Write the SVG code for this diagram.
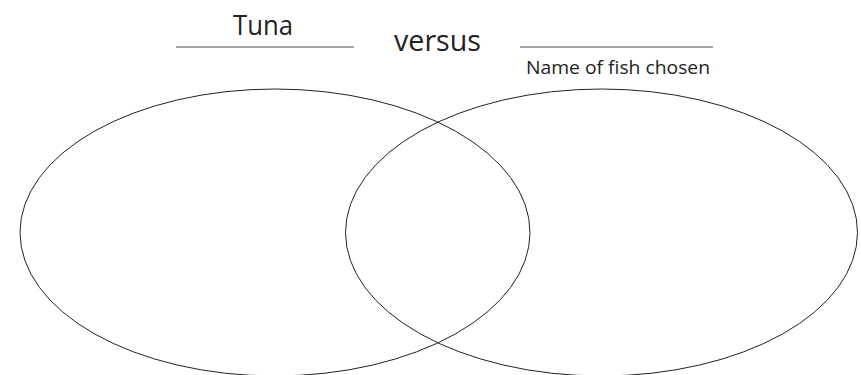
<svg xmlns="http://www.w3.org/2000/svg" width="861" height="375" viewBox="0 0 861 375">
<style>
.t{font-family:"Open Sans","Liberation Sans",sans-serif;fill:#222}
.ln{stroke:#888;stroke-width:1.5}
.ov{fill:none;stroke:#222;stroke-width:1}
</style>
<rect width="861" height="375" fill="#fff"/>
<g id="header">
<line class="ln" x1="176" y1="47" x2="354" y2="47"/>
<line class="ln" x1="520" y1="47" x2="713" y2="47"/>
<text class="t" x="233" y="35" font-size="27" textLength="60" lengthAdjust="spacingAndGlyphs">Tuna</text>
<text class="t" x="394" y="51" font-size="29" textLength="87" lengthAdjust="spacingAndGlyphs">versus</text>
<text class="t" x="526" y="74" font-size="18.5" textLength="184" lengthAdjust="spacingAndGlyphs">Name of fish chosen</text>
</g>
<g id="left-set"><ellipse class="ov" cx="275" cy="232.5" rx="255" ry="143.5"/></g>
<g id="right-set"><ellipse class="ov" cx="601.5" cy="232.5" rx="256" ry="143.5"/></g>
</svg>
